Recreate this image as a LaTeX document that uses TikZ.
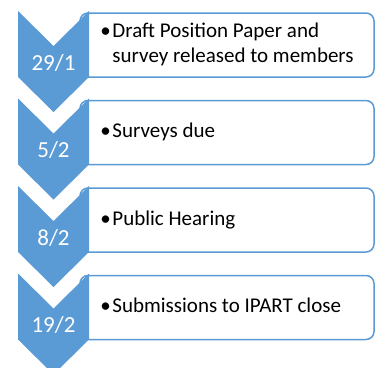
\documentclass[tikz,border=0pt]{standalone}
\usepackage{fontspec}
\setmainfont{Carlito}
\usetikzlibrary{positioning}
\definecolor{chevblue}{HTML}{5B9BD5}
\tikzset{
    every node/.style={font=\fontsize{21}{25}\selectfont},
    itembox/.style={rectangle,rounded corners=8pt,draw=chevblue,line width=1.5pt,fill=white,minimum width=294pt,minimum height=64pt,inner sep=0pt},
    itemtext/.style={inner sep=0pt,align=left},
    datelabel/.style={anchor=base,text=white,inner sep=0pt,font=\fontsize{23}{27}\selectfont},
    chevron/.style={fill=chevblue}
}
\newcommand{\bulletitem}[1]{\makebox[12pt][l]{\textbullet}\begin{tabular}[t]{@{}l@{}}#1\end{tabular}}
\newcommand{\chevronat}[1]{%
    \fill[chevron] (#1) ++(-35.5,0) -- ++(35.5,35) -- ++(35.5,-35) -- ++(0,66) -- ++(-35.5,35) -- ++(-35.5,-35) -- cycle;}

\begin{document}
\begin{tikzpicture}[x=1pt,y=-1pt]
    \clip (0,0) rectangle (375,367);
    % boxes (left side hidden under the chevrons)
    \node[itembox] (b1) at (227,45) {};
    \node[itembox] (b2) at (227,132.5) {};
    \node[itembox] (b3) at (227,220) {};
    \node[itembox] (b4) at (227,307.5) {};
    % chevrons
    \chevronat{53.5,11}
    \chevronat{53.5,98.5}
    \chevronat{53.5,186}
    \chevronat{53.5,273.5}
    % dates
    \node[datelabel] (d1) at (53.5,70) {29/1};
    \node[datelabel] (d2) at (53.5,157.5) {5/2};
    \node[datelabel] (d3) at (53.5,245) {8/2};
    \node[datelabel] (d4) at (53.5,332) {19/2};
    % items
    \node[itemtext,right=21pt of b1.west] (t1) {\bulletitem{Draft Position Paper and\\survey released to members}};
    \node[itemtext,right=21pt of b2.west] (t2) {\bulletitem{Surveys due}};
    \node[itemtext,right=21pt of b3.west] (t3) {\bulletitem{Public Hearing}};
    \node[itemtext,right=21pt of b4.west] (t4) {\bulletitem{Submissions to IPART close}};
\end{tikzpicture}
\end{document}
